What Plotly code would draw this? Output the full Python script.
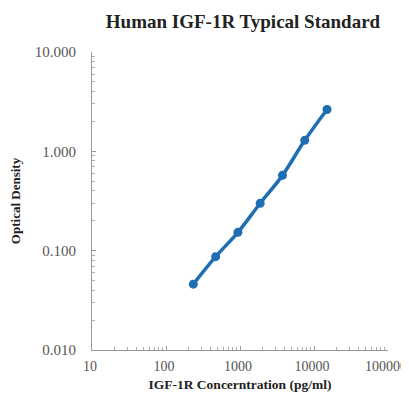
import plotly.graph_objects as go

conc = [234, 469, 938, 1875, 3750, 7500, 15000]
od = [0.046, 0.087, 0.153, 0.30, 0.573, 1.29, 2.64]

x_tickvals = [10, 100, 1000, 10000, 100000]
x_ticktext = ["10", "100", "1000", "10000", "100000"]
y_tickvals = [0.01, 0.1, 1, 10]
y_ticktext = ["0.010", "0.100", "1.000", "10.000"]

blue = "#1f6db3"
serif = "Liberation Serif, Times New Roman, serif"

fig = go.Figure()
fig.add_trace(go.Scatter(
    x=conc, y=od, mode="lines+markers",
    line=dict(color=blue, width=3.5, shape="spline"),
    marker=dict(color=blue, size=9),
    showlegend=False, cliponaxis=False,
))

axis_common = dict(
    type="log", showgrid=False, zeroline=False, automargin=False,
    showline=True, linecolor="#9a9a9a", linewidth=1,
    ticks="inside", ticklen=4, tickcolor="#9a9a9a",
    minor=dict(ticks="inside", ticklen=3, tickcolor="#b0b0b0", showgrid=False, dtick="D1"),
    tickfont=dict(family=serif, size=15, color="#555555"),
    ticklabeloverflow="allow",
)

fig.update_layout(
    width=401, height=385,
    margin=dict(l=84, r=21, t=44, b=43),
    paper_bgcolor="white", plot_bgcolor="white",
    title=dict(text="<b>Human IGF-1R Typical Standard</b>", x=0.586, xanchor="center",
               y=0.966, yanchor="middle",
               font=dict(family=serif, size=19, color="#222222")),
    xaxis=dict(axis_common, range=[1, 5], tickvals=x_tickvals, ticktext=x_ticktext,
               ticklabelstandoff=3, ticklabelshift=-2,
               tickfont=dict(family=serif, size=14, color="#555555"),
               title=dict(text="<b>IGF-1R Concerntration (pg/ml)</b>", standoff=6,
                          font=dict(family=serif, size=13.5, color="#222222"))),
    yaxis=dict(axis_common, range=[-2, 1], tickvals=y_tickvals, ticktext=y_ticktext,
               ticklabelstandoff=12,
               title=dict(text="<b>Optical Density</b>", standoff=24,
                          font=dict(family=serif, size=13, color="#222222"))),
)

fig.write_html("out.html")
